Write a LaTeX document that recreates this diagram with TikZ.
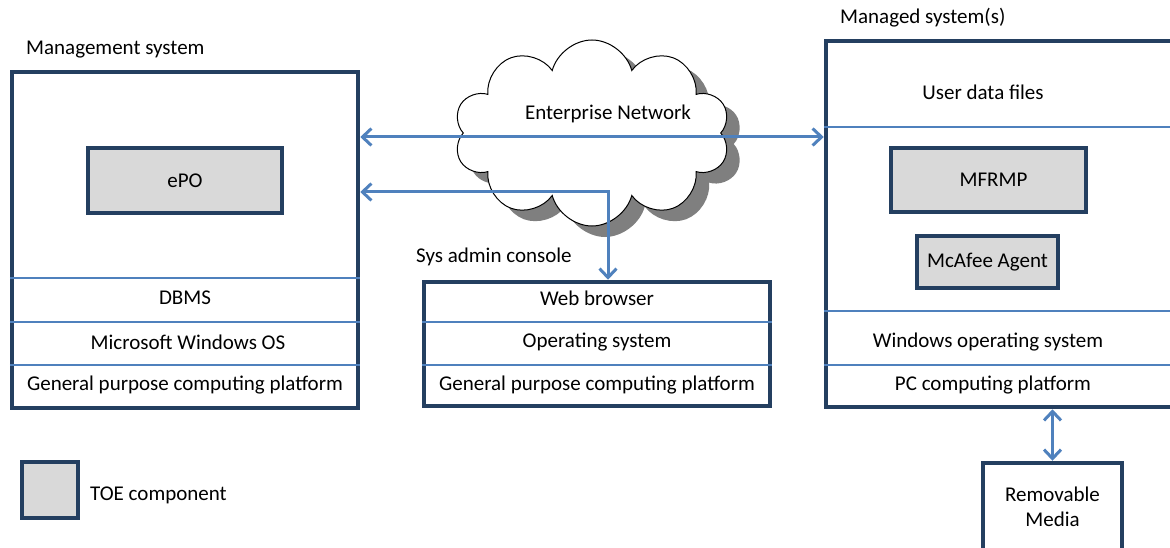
\documentclass[tikz,border=0pt]{standalone}
\usepackage{fontspec}
\setmainfont{Carlito}
\usetikzlibrary{shapes.symbols,shadows,arrows.meta}
\definecolor{navy}{HTML}{243F60}
\definecolor{lblue}{HTML}{4F81BD}
\definecolor{toegray}{HTML}{D9D9D9}
\definecolor{shadowgray}{HTML}{7F7F7F}
\tikzset{
  txt/.style={font=\fontsize{21}{25}\selectfont, inner sep=0pt, text=black},
  sysbox/.style={draw=navy, line width=4.5pt, inner sep=0pt, fill=white},
  toe/.style={draw=navy, line width=3.5pt, fill=toegray, inner sep=0pt, txt},
  layer/.style={draw=lblue, line width=2.2pt},
  thinlayer/.style={draw=lblue, line width=1.3pt},
  arr/.style={draw=lblue, line width=3pt, {Straight Barb[length=9pt,width=17pt]}-{Straight Barb[length=9pt,width=17pt]}},
}
\begin{document}
\begin{tikzpicture}[x=1pt,y=-1pt]
\useasboundingbox (0,0) rectangle (1170,548);
\clip (0,0) rectangle (1170,548);
\fill[white] (0,0) rectangle (1170,548);

% cloud
\node[cloud, cloud puffs=10, aspect=1.5, draw=black, line width=1pt, fill=white,
      minimum width=276pt, minimum height=186pt,
      drop shadow={shadow xshift=13pt, shadow yshift=-11pt, fill=shadowgray, opacity=1}]
      (cloud) at (592,133) {};
\node[txt] (cloudtxt) at (608,114) {Enterprise Network};

% management system
\node[txt, anchor=west] (mgmtlbl) at (26,50) {Management system};
\node[sysbox, minimum width=346pt, minimum height=336pt] (mgmt) at (185,240) {};
\node[toe, minimum width=194pt, minimum height=65pt] (epo) at (185,180.5) {ePO};
\draw[layer] (mgmt.west |- 0,278) -- (mgmt.east |- 0,278);
\draw[layer] (mgmt.west |- 0,322) -- (mgmt.east |- 0,322);
\draw[layer] (mgmt.west |- 0,365) -- (mgmt.east |- 0,365);
\node[txt] (dbms) at (185,298) {DBMS};
\node[txt] (mswin) at (188,342) {Microsoft Windows OS};
\node[txt] (gpcp1) at (185,385) {General purpose computing platform};

% sys admin console
\node[txt, anchor=west] (consolelbl) at (416,257) {Sys admin console};
\node[sysbox, minimum width=346pt, minimum height=124pt] (console) at (597,344) {};
\draw[layer] (console.west |- 0,322) -- (console.east |- 0,322);
\draw[layer] (console.west |- 0,365) -- (console.east |- 0,365);
\node[txt] (web) at (597,298) {Web browser};
\node[txt] (os) at (597,342) {Operating system};
\node[txt] (gpcp2) at (597,385) {General purpose computing platform};

% managed systems
\node[txt, anchor=west] (managedlbl) at (840,18) {Managed system(s)};
\node[sysbox, minimum width=360pt, minimum height=366pt] (managed) at (1006,224) {};
\draw[thinlayer] (managed.west |- 0,127) -- (managed.east |- 0,127);
\draw[thinlayer] (managed.west |- 0,311) -- (managed.east |- 0,311);
\draw[layer] (managed.west |- 0,365) -- (managed.east |- 0,365);
\node[txt] (udf) at (983,92) {User data files};
\node[toe, minimum width=195pt, minimum height=64pt] (mfrmp) at (988.5,180) {\hspace{10pt}MFRMP};
\node[toe, minimum width=141pt, minimum height=52pt] (agent) at (987.5,262) {\raisebox{-3pt}{McAfee Agent}};
\node[txt] (winos) at (988,342) {Windows operating system};
\node[txt] (pcp) at (993,385) {PC computing platform};

% removable media
\node[sysbox, minimum width=139pt, minimum height=97pt] (rm) at (1052.5,511.5) {};
\node[txt, align=center] (rmtxt) at (1052.5,507) {Removable\\Media};

% legend
\node[toe, line width=4.5pt, minimum width=56pt, minimum height=56pt] (legbox) at (50,490) {};
\node[txt, anchor=west] (legtxt) at (90,495) {TOE component};

% connectors
\draw[arr] (mgmt.east |- 0,137) -- (managed.west |- 0,137);
\coordinate (bend) at (608,192);
\draw[arr] (mgmt.east |- bend) -- (bend) -- (console.north -| bend);
\draw[arr] (rm.north |- managed.south) -- (rm.north);
\end{tikzpicture}
\end{document}
